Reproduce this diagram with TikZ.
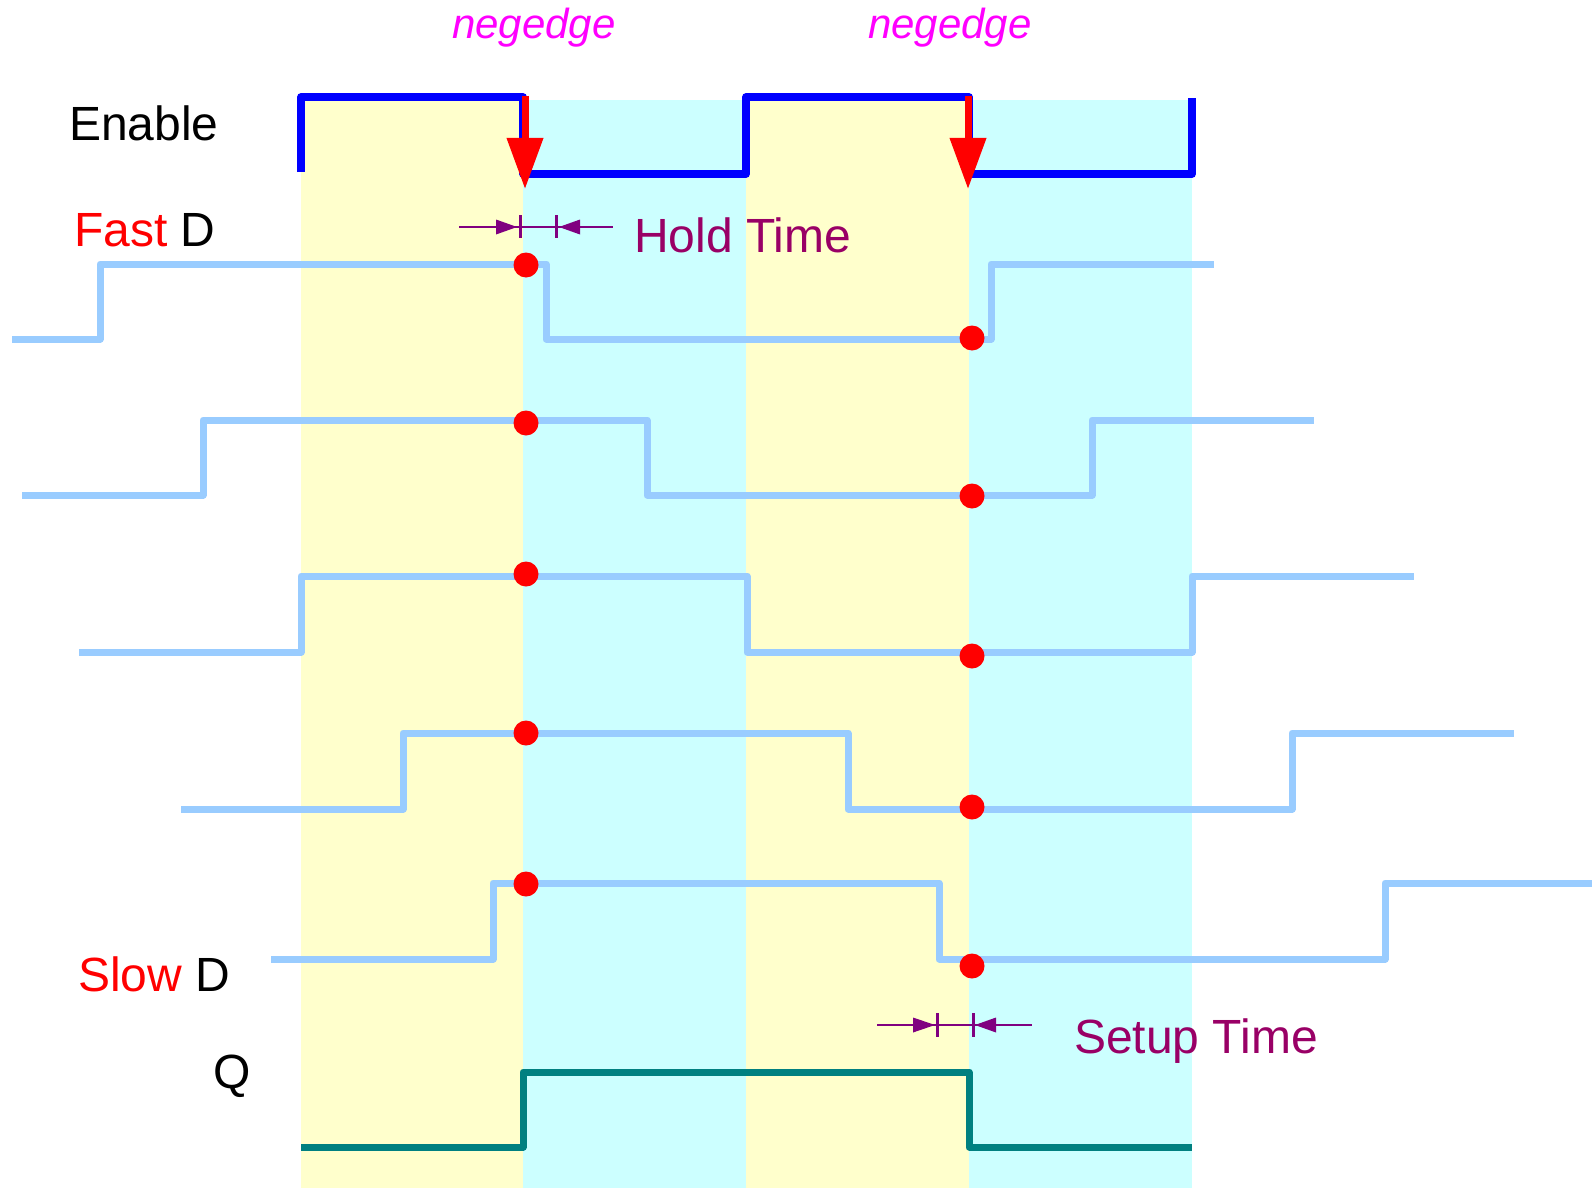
\documentclass[tikz,border=0pt]{standalone}
\usepackage{fontspec}
\setmainfont{Liberation Sans}
\usetikzlibrary{arrows.meta}
\definecolor{bandyellow}{HTML}{FFFFCC}
\definecolor{bandcyan}{HTML}{CCFFFF}
\definecolor{signalblue}{HTML}{99CCFF}
\definecolor{qteal}{HTML}{008080}
\definecolor{markpurple}{HTML}{800080}
\definecolor{labelpurple}{HTML}{990066}
\definecolor{edgemagenta}{HTML}{FF00FF}
\definecolor{pureblue}{HTML}{0000FF}
\definecolor{purered}{HTML}{FF0000}

\begin{document}
\begin{tikzpicture}[x=1pt, y=-1pt,
    label text/.style={inner sep=0pt, anchor=base west, font=\fontsize{48}{56}\selectfont},
    edge label/.style={inner sep=0pt, anchor=base west, text=edgemagenta, font=\fontsize{42}{50}\selectfont\itshape},
    data line/.style={draw=signalblue, line width=7pt, line join=round},
    sample dot/.style={circle, fill=purered, minimum size=25pt, inner sep=0pt},
    dim line/.style={markpurple, line width=1.5pt},
    dim bar/.style={markpurple, line width=3pt},
    dim head/.style={fill=markpurple},
    edge arrow/.style={purered, line width=7pt, -{Triangle[length=51pt, width=35pt]}}
  ]
    \useasboundingbox (0,0) rectangle (1592,1188);

    % enable phases
    \fill[bandyellow] (301,100) rectangle (523,1188);
    \fill[bandcyan] (523,100) rectangle (746,1188);
    \fill[bandyellow] (746,100) rectangle (969,1188);
    \fill[bandcyan] (969,100) rectangle (1192,1188);

    % enable
    \draw[pureblue, line width=7.5pt, line join=round] (301,172) -- (301,97) -- (523,97) -- (523,174) -- (746,174)
        -- (746,97) -- (969,97) -- (969,174) -- (1192,174) -- (1192,98);

    \coordinate (fall1 top) at (525,96);
    \coordinate (fall1 tip) at (525,189);
    \coordinate (fall2 top) at (968,96);
    \coordinate (fall2 tip) at (968,189);
    \draw[edge arrow] (fall1 top) -- (fall1 tip);
    \draw[edge arrow] (fall2 top) -- (fall2 tip);

    % data inputs, fast to slow
    \draw[data line] (12,339) -- (100,339) -- (100,264) -- (546,264) -- (546,339) -- (991,339) -- (991,264) -- (1214,264);
    \draw[data line] (22,495) -- (203,495) -- (203,420) -- (647,420) -- (647,495) -- (1092,495) -- (1092,420) -- (1314,420);
    \draw[data line] (79,652) -- (301,652) -- (301,576) -- (747,576) -- (747,652) -- (1192,652) -- (1192,576) -- (1414,576);
    \draw[data line] (181,809) -- (403,809) -- (403,733) -- (848,733) -- (848,809) -- (1292,809) -- (1292,733) -- (1514,733);
    \draw[data line] (271,959) -- (493,959) -- (493,883) -- (939,883) -- (939,959) -- (1385,959) -- (1385,883) -- (1592,883);

    \node[sample dot] (s1a) at (526,265) {};
    \node[sample dot] (s1b) at (972,338) {};
    \node[sample dot] (s2a) at (526,423) {};
    \node[sample dot] (s2b) at (972,496) {};
    \node[sample dot] (s3a) at (526,574) {};
    \node[sample dot] (s3b) at (972,656) {};
    \node[sample dot] (s4a) at (526,733) {};
    \node[sample dot] (s4b) at (972,807) {};
    \node[sample dot] (s5a) at (526,884) {};
    \node[sample dot] (s5b) at (972,966) {};

    % output
    \draw[qteal, line width=7pt, line join=round] (301,1147) -- (523,1147) -- (523,1072) -- (969,1072) -- (969,1147) -- (1192,1147);

    % hold time
    \coordinate (hold left) at (459,227);
    \coordinate (hold start) at (520,227);
    \coordinate (hold end) at (556,227);
    \coordinate (hold right) at (613,227);
    \draw[dim line] (hold left) -- (hold right);
    \fill[dim head] ([xshift=-3pt]hold start) -- ++(-21,-7.5) -- ++(0,15) -- cycle;
    \fill[dim head] ([xshift=3pt]hold end) -- ++(21,-7.5) -- ++(0,15) -- cycle;
    \draw[dim bar] ([yshift=12pt]hold start) -- ([yshift=-11pt]hold start);
    \draw[dim bar] ([yshift=12pt]hold end) -- ([yshift=-11pt]hold end);

    % setup time
    \coordinate (setup left) at (877,1025);
    \coordinate (setup start) at (937,1025);
    \coordinate (setup end) at (973,1025);
    \coordinate (setup right) at (1032,1025);
    \draw[dim line] (setup left) -- (setup right);
    \fill[dim head] ([xshift=-2pt]setup start) -- ++(-22,-7.5) -- ++(0,15) -- cycle;
    \fill[dim head] ([xshift=2pt]setup end) -- ++(21,-7.5) -- ++(0,15) -- cycle;
    \draw[dim bar] ([yshift=12pt]setup start) -- ([yshift=-12pt]setup start);
    \draw[dim bar] ([yshift=12pt]setup end) -- ([yshift=-12pt]setup end);

    % labels
    \node[edge label] (neg1) at (452,39) {negedge};
    \node[edge label] (neg2) at (868,39) {negedge};
    \node[label text] (enable) at (69,141) {Enable};
    \node[label text] (fast) at (74,246) {\textcolor{purered}{Fast} D};
    \node[label text] (slow) at (78,991) {\textcolor{purered}{Slow} D};
    \node[label text] (q) at (213,1088) {Q};
    \node[label text, text=labelpurple] (hold) at (634,252) {Hold Time};
    \node[label text, text=labelpurple] (setup) at (1074,1053) {Setup Time};
\end{tikzpicture}
\end{document}
